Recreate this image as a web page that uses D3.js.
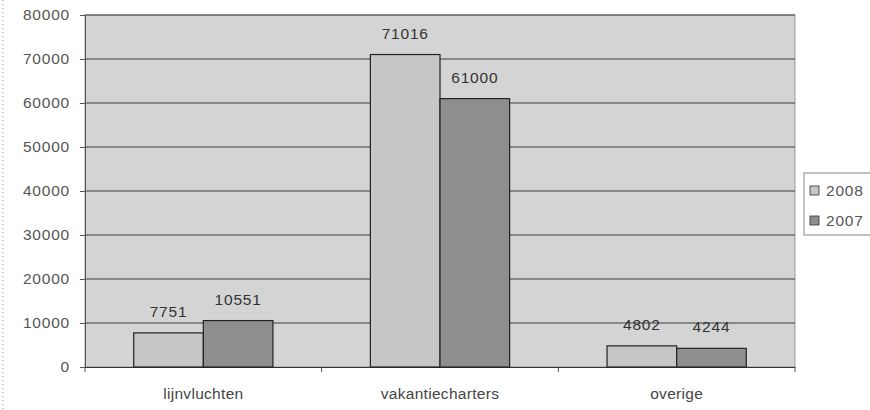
<!DOCTYPE html>
<html>
<head>
<meta charset="utf-8">
<script src="https://cdn.jsdelivr.net/npm/d3@7"></script>
<style>
  body { margin: 0; background: #fff; }
  text { font-family: "Liberation Sans", Arial, sans-serif; }
</style>
</head>
<body>
<div id="chart"></div>
<script>
// data
let categories = ["lijnvluchten", "vakantiecharters", "overige"];
let seriesNames = ["2008", "2007"];
let values2008 = [7751, 71016, 4802];
let values2007 = [10551, 61000, 4244];
let yTicks = [0, 10000, 20000, 30000, 40000, 50000, 60000, 70000, 80000];

let data = categories.map(function(c, i) {
  return { cat: c, vals: [values2008[i], values2007[i]] };
});

let width = 870;
let height = 410;
let margin = {"top": 15, "bottom": 43, "right": 75, "left": 85};
let colors = { "2008": "#c6c6c6", "2007": "#8e8e8e" };

let svg = d3.select("#chart")
  .append("svg")
  .attr("width", width)
  .attr("height", height);

// outer dotted border (left)
svg.append("line")
  .attr("x1", 3).attr("x2", 3)
  .attr("y1", 0).attr("y2", height)
  .attr("stroke", "#999")
  .attr("stroke-dasharray", "1,3");

let xScale = d3.scaleBand()
  .domain(categories)
  .range([margin.left, width - margin.right]);

let xInner = d3.scaleBand()
  .domain(seriesNames)
  .range([0, xScale.bandwidth()])
  .paddingOuter(0.7)
  .paddingInner(0);

let yScale = d3.scaleLinear()
  .domain([0, 80000])
  .range([height - margin.bottom, margin.top]);

// plot area background
svg.append("rect")
  .attr("x", margin.left)
  .attr("y", margin.top)
  .attr("width", width - margin.left - margin.right)
  .attr("height", height - margin.top - margin.bottom)
  .attr("fill", "#d4d4d4")
  .attr("stroke", "#888")
  .attr("stroke-width", 0.8);

// gridlines
svg.append("g")
  .selectAll("line")
  .data(yTicks.slice(1))
  .enter()
  .append("line")
  .attr("x1", margin.left)
  .attr("x2", width - margin.right)
  .attr("y1", function(d) { return yScale(d); })
  .attr("y2", function(d) { return yScale(d); })
  .attr("stroke", "#3c3c3c")
  .attr("stroke-width", 1);

// y axis
let axisy = d3.axisLeft(yScale).tickValues(yTicks).tickSize(5).tickFormat(d3.format("d"));
let gy = svg.append("g")
  .attr("transform", "translate(" + margin.left + ",0)")
  .call(axisy);
gy.select(".domain").attr("stroke", "#555");
gy.selectAll(".tick line").attr("stroke", "#555");
gy.selectAll(".tick text")
  .attr("x", -15)
  .attr("fill", "#555")
  .attr("font-size", "15.5px")
  .attr("letter-spacing", "0.8px")
  .attr("font-family", "Liberation Sans, Arial, sans-serif");

// x axis
let axisx = d3.axisBottom(xScale).tickSize(0).tickPadding(21);
let gx = svg.append("g")
  .attr("transform", "translate(0," + (height - margin.bottom) + ")")
  .call(axisx);
gx.select(".domain").attr("stroke", "#333");
gx.selectAll(".tick text")
  .attr("fill", "#444")
  .attr("font-size", "15.5px")
  .attr("letter-spacing", "0.3px")
  .attr("font-family", "Liberation Sans, Arial, sans-serif");
// category separator ticks
svg.append("g")
  .selectAll("line")
  .data(categories.concat(["end"]))
  .enter()
  .append("line")
  .attr("x1", function(d, i) { return margin.left + i * xScale.bandwidth(); })
  .attr("x2", function(d, i) { return margin.left + i * xScale.bandwidth(); })
  .attr("y1", height - margin.bottom)
  .attr("y2", height - margin.bottom + 5)
  .attr("stroke", "#555");

// bars
let groups = svg.append("g")
  .selectAll("g")
  .data(data)
  .enter()
  .append("g")
  .attr("transform", function(d) { return "translate(" + xScale(d.cat) + ",0)"; });

groups.selectAll("rect")
  .data(function(d) { return d.vals.map(function(v, i) { return { s: seriesNames[i], v: v }; }); })
  .enter()
  .append("rect")
  .attr("x", function(d) { return xInner(d.s); })
  .attr("y", function(d) { return yScale(d.v); })
  .attr("width", xInner.bandwidth())
  .attr("height", function(d) { return yScale(0) - yScale(d.v); })
  .attr("fill", function(d) { return colors[d.s]; })
  .attr("stroke", "#222")
  .attr("stroke-width", 1.2);

groups.selectAll("text")
  .data(function(d) { return d.vals.map(function(v, i) { return { s: seriesNames[i], v: v }; }); })
  .enter()
  .append("text")
  .attr("x", function(d) { return xInner(d.s) + xInner.bandwidth() / 2; })
  .attr("y", function(d) { return yScale(d.v) - 16; })
  .attr("text-anchor", "middle")
  .attr("fill", "#333")
  .attr("font-size", "15.5px")
  .attr("letter-spacing", "0.8px")
  .text(function(d) { return d.v; });

// legend
let legend = svg.append("g").attr("transform", "translate(804,173)");
legend.append("rect")
  .attr("x", 0).attr("y", 0)
  .attr("width", 80).attr("height", 62)
  .attr("fill", "#fff")
  .attr("stroke", "#666")
  .attr("stroke-width", 0.8);
seriesNames.forEach(function(s, i) {
  legend.append("rect")
    .attr("x", 6).attr("y", 13 + i * 30)
    .attr("width", 9).attr("height", 9)
    .attr("fill", colors[s])
    .attr("stroke", "#333")
    .attr("stroke-width", 0.8);
  legend.append("text")
    .attr("x", 22).attr("y", 23 + i * 30)
    .attr("fill", "#555")
    .attr("font-size", "15.5px")
    .attr("letter-spacing", "0.8px")
    .text(s);
});
</script>
</body>
</html>
